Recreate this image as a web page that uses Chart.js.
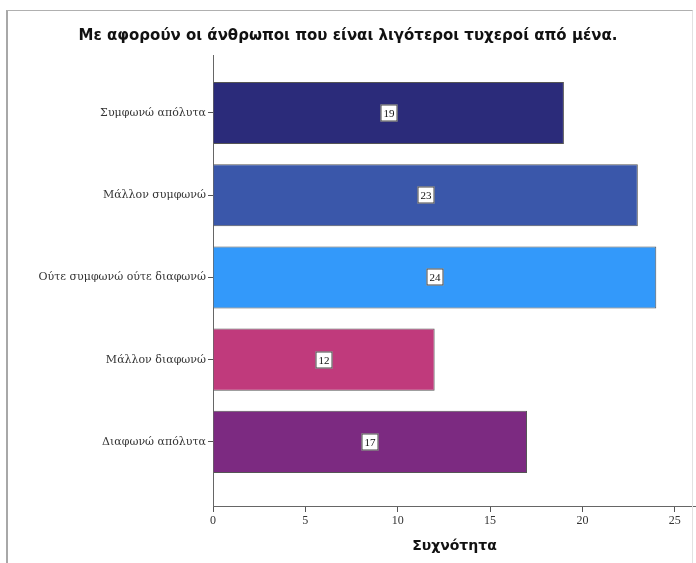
<!DOCTYPE html>
<html>
<head>
<meta charset="utf-8">
<script src="https://cdn.jsdelivr.net/npm/chart.js@4/dist/chart.umd.min.js"></script>
<style>
    html, body { margin: 0; padding: 0; background: #fff; }
    #wrap { position: relative; width: 696px; height: 563px; overflow: hidden; }
    #chart { position: absolute; left: 0; top: 0; }
    #frame {
        position: absolute; left: 6px; top: 10px; width: 684px; height: 560px;
        border-top: 1px solid #b0b0b0; border-left: 2px solid #a8a8a8; border-right: 1px solid #e2e2e2;
        pointer-events: none;
    }
</style>
</head>
<body>
<div id="wrap">
    <canvas id="chart" width="696" height="563"></canvas>
    <div id="frame"></div>
</div>
<script>
const categories = [
    'Συμφωνώ απόλυτα',
    'Μάλλον συμφωνώ',
    'Ούτε συμφωνώ ούτε διαφωνώ',
    'Μάλλον διαφωνώ',
    'Διαφωνώ απόλυτα'
];
const frequencies = [19, 23, 24, 12, 17];
const barColors = ['#2b2b7a', '#3a57aa', '#3399fa', '#c03a7c', '#7c2a81'];
const xTicks = [0, 5, 10, 15, 20, 25];

const titleText = 'Με αφορούν οι άνθρωποι που είναι λιγότεροι τυχεροί από μένα.';
const xTitle = 'Συχνότητα';

// boxed value labels in the middle of each bar
const valueBoxes = {
    id: 'valueBoxes',
    afterDatasetsDraw(chart) {
        const ctx = chart.ctx;
        const meta = chart.getDatasetMeta(0);
        ctx.save();
        ctx.font = '11px "Liberation Serif", serif';
        ctx.textAlign = 'center';
        ctx.textBaseline = 'middle';
        meta.data.forEach((bar, i) => {
            const cx = Math.round((bar.x + bar.base) / 2);
            const cy = Math.round(bar.y);
            const w = 17, h = 17;
            ctx.fillStyle = '#fff';
            ctx.fillRect(cx - w / 2, cy - h / 2, w, h);
            ctx.strokeStyle = '#444';
            ctx.lineWidth = 1;
            ctx.strokeRect(cx - w / 2 + 0.5, cy - h / 2 + 0.5, w - 1, h - 1);
            ctx.fillStyle = '#111';
            ctx.fillText(String(frequencies[i]), cx, cy + 1);
        });
        ctx.restore();
    }
};

new Chart(document.getElementById('chart').getContext('2d'), {
    type: 'bar',
    data: {
        datasets: [{
            data: frequencies.map((v, i) => ({ x: v, y: i + 1 })),
            backgroundColor: barColors,
            borderColor: '#555',
            borderWidth: 1,
            barPercentage: 0.755,
            categoryPercentage: 1
        }]
    },
    options: {
        indexAxis: 'y',
        responsive: false,
        animation: false,
        layout: { padding: 0 },
        plugins: {
            legend: { display: false },
            tooltip: { enabled: false },
            title: {
                display: true,
                text: titleText,
                color: '#111',
                font: { family: '"DejaVu Sans", sans-serif', size: 15, weight: 'bold' },
                padding: { top: 27, bottom: 10 }
            }
        },
        scales: {
            x: {
                type: 'linear',
                min: 0,
                max: 26.15,
                afterBuildTicks: s => { s.ticks = xTicks.map(v => ({ value: v })); },
                afterFit: s => { s.height = 57; },
                grid: { drawOnChartArea: false, tickLength: 6, color: '#555' },
                border: { color: '#666', width: 1 },
                ticks: {
                    color: '#333',
                    padding: 2,
                    maxRotation: 0,
                    font: { family: '"Liberation Serif", serif', size: 12 }
                },
                title: {
                    display: true,
                    text: xTitle,
                    color: '#111',
                    font: { family: '"DejaVu Sans", sans-serif', size: 14, weight: 'bold' },
                    padding: { top: 4, bottom: 8 }
                }
            },
            y: {
                type: 'linear',
                reverse: true,
                offset: false,
                min: 0.295,
                max: 5.78,
                afterBuildTicks: s => { s.ticks = categories.map((c, i) => ({ value: i + 1 })); },
                afterFit: s => { s.width = 213; },
                grid: { drawOnChartArea: false, offset: false, tickLength: 5, color: '#555' },
                border: { color: '#666', width: 1 },
                ticks: {
                    color: '#333',
                    padding: 2,
                    font: { family: '"DejaVu Serif", serif', size: 11 },
                    callback: v => categories[v - 1]
                }
            }
        }
    },
    plugins: [valueBoxes]
});
</script>
</body>
</html>
